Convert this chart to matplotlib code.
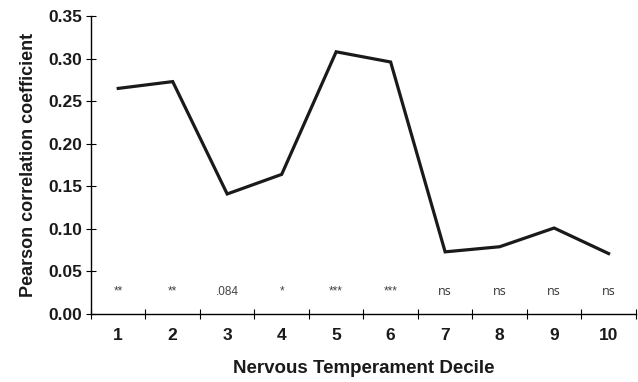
import matplotlib.pyplot as plt
from matplotlib.ticker import MultipleLocator, FixedLocator, NullFormatter

plt.rcParams['font.family'] = ['Liberation Sans', 'DejaVu Sans']

deciles = [1, 2, 3, 4, 5, 6, 7, 8, 9, 10]
pearson_r = [0.265, 0.273, 0.141, 0.164, 0.308, 0.296, 0.073, 0.079, 0.101, 0.071]
significance = ['**', '**', '.084', '*', '***', '***', 'ns', 'ns', 'ns', 'ns']

fig = plt.figure(figsize=(6.38, 3.82), dpi=100)
ax = fig.add_axes([0.1426, 0.178, 0.854, 0.78])

ax.plot(deciles, pearson_r, color='#1a1a1a', lw=2.3, solid_joinstyle='miter')

# significance markers just above the x axis
for x, s in zip(deciles, significance):
    if s == 'ns':
        ax.text(x, 0.026, s, ha='center', va='center', fontsize=9,
                family='Open Sans', color='#333333')
    else:
        ax.text(x, 0.026, s, ha='center', va='center', fontsize=8.5,
                color='#444444')

ax.set_xlim(0.5, 10.5)
ax.set_ylim(0, 0.35)
ax.yaxis.set_major_locator(MultipleLocator(0.05))
ax.yaxis.set_major_formatter(plt.FuncFormatter(lambda v, p: f'{v:.2f}'))

# boundary ticks between deciles, labels centred under each decile
ax.xaxis.set_major_locator(FixedLocator([i + 0.5 for i in range(0, 11)]))
ax.xaxis.set_major_formatter(NullFormatter())
ax.set_xticks(deciles, [str(d) for d in deciles], minor=True)
ax.tick_params(axis='x', which='minor', length=0, pad=10)
ax.tick_params(axis='x', which='major', direction='inout', length=7, width=0.8)
ax.tick_params(axis='y', direction='inout', length=7, width=0.8, pad=3)

for lab in ax.get_xticklabels(minor=True) + ax.get_yticklabels():
    lab.set_fontsize(12.5)
    lab.set_fontweight('bold')
    lab.set_color('#1a1a1a')

for side in ['top', 'right']:
    ax.spines[side].set_visible(False)
ax.spines['left'].set_linewidth(1.0)
ax.spines['bottom'].set_linewidth(1.0)

ax.set_xlabel('Nervous Temperament Decile', fontsize=13.5, fontweight='bold',
              labelpad=12, color='#1a1a1a')
ax.set_ylabel('Pearson correlation coefficient', fontsize=13, fontweight='bold',
              labelpad=8, color='#1a1a1a')

fig.savefig('out.png', dpi=100)
